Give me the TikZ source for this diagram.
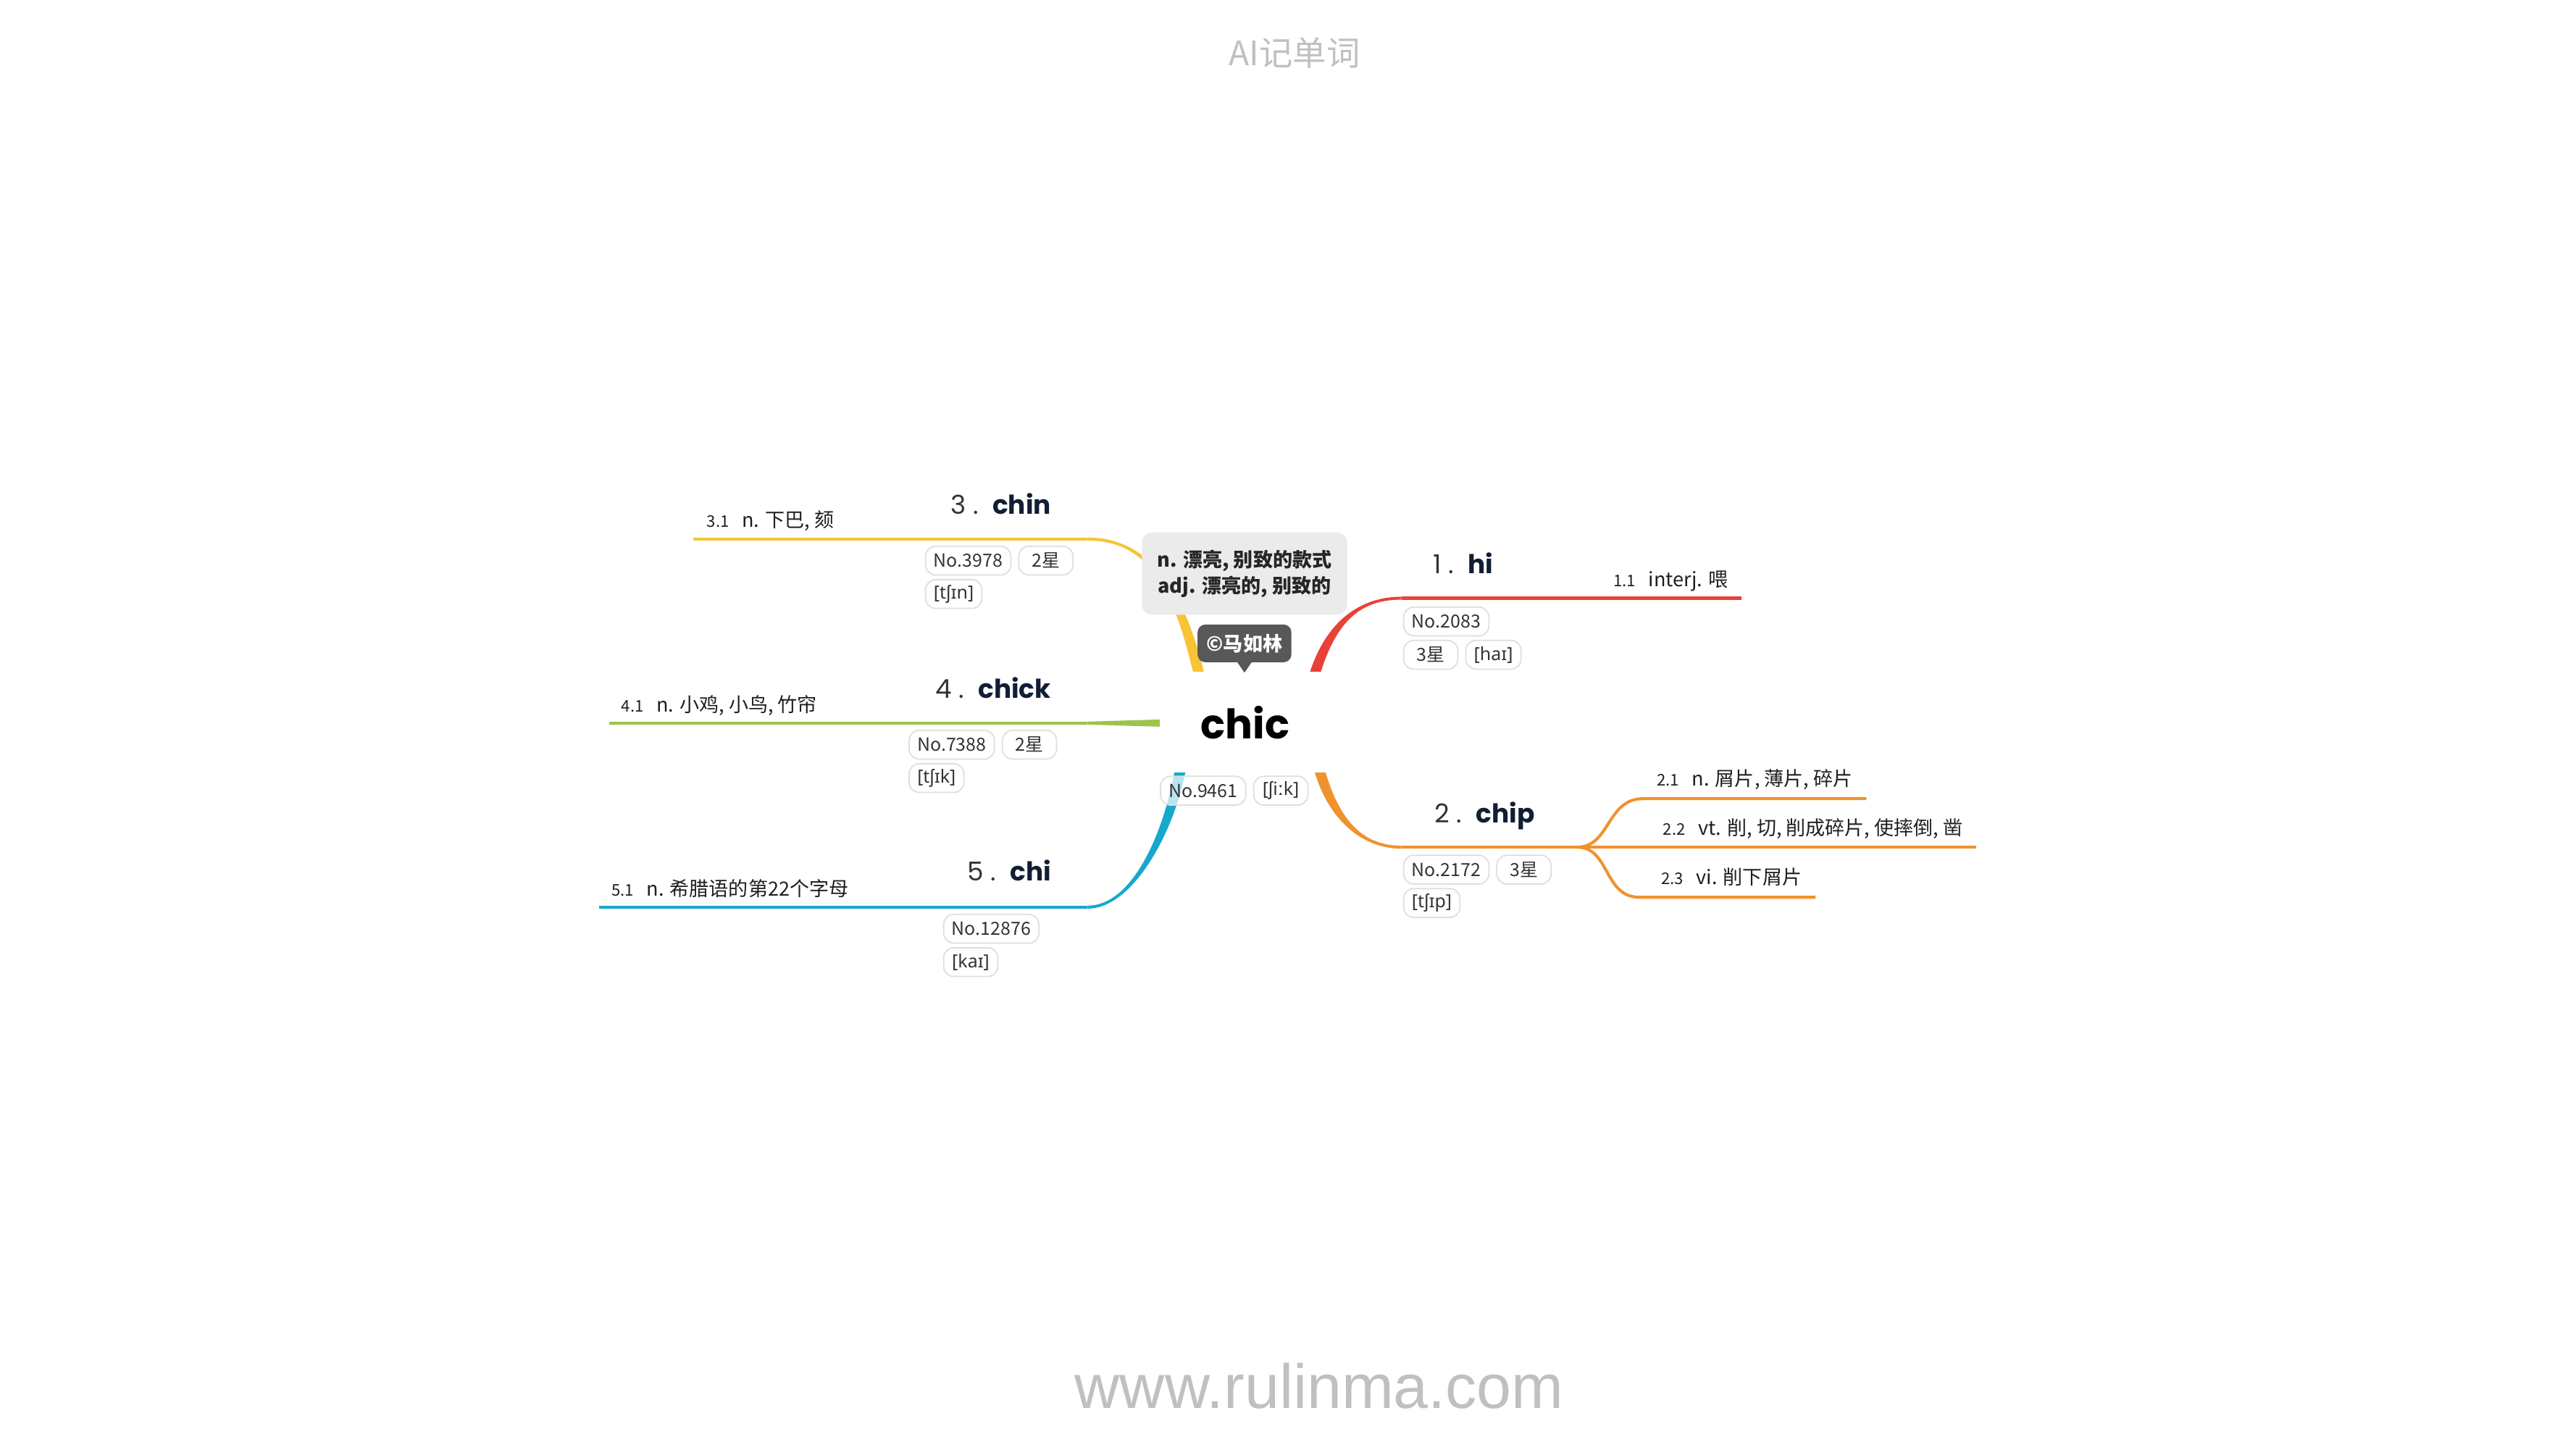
\documentclass[tikz,border=0pt]{standalone}
\usepackage{fontspec}
\setmainfont{Noto Sans CJK SC}
\newfontfamily\wordfont{Poppins}
\newfontfamily\ipafont{Noto Sans}
\newfontfamily\sitefont{Liberation Sans}
\usetikzlibrary{positioning,calc}

\definecolor{limbred}{RGB}{232,66,56}
\definecolor{limborange}{RGB}{240,146,46}
\definecolor{limbyellow}{RGB}{246,196,52}
\definecolor{limbgreen}{RGB}{158,195,76}
\definecolor{limbblue}{RGB}{22,168,205}
\definecolor{wordnavy}{RGB}{18,30,52}
\definecolor{notegray}{RGB}{235,235,235}
\definecolor{badgegray}{RGB}{88,88,88}
\definecolor{tagline}{RGB}{222,222,222}
\definecolor{markgray}{RGB}{192,192,192}

% tapered start of a branch: colour, start, control 1, control 2, joint, offsets at the joint
\newcommand{\branchlimb}[7]{%
  \fill[#1] ($(#2)+(-3.3,0)$) .. controls ($(#3)+(-3.3,0)$) and ($(#4)+(0,#6)$) .. ($(#5)+(0,#6)$)
    -- ($(#5)+(0,#7)$) .. controls ($(#4)+(0,#7)$) and ($(#3)+(3.3,0)$) .. ($(#2)+(3.3,0)$) -- cycle;}

\begin{document}
\begin{tikzpicture}[x=0.02268cm, y=-0.02268cm,
    limbline/.style={line width=1.16pt},
    rootbox/.style={fill=white, minimum width=67.1pt, minimum height=39.4pt, inner sep=0pt,
        font=\wordfont\bfseries\fontsize{16}{18}\selectfont, text=black},
    notebox/.style={fill=notegray, rounded corners=4pt, minimum width=80.6pt, minimum height=32.3pt,
        align=center, inner sep=0pt, font=\bfseries\fontsize{7.7}{10.3}\selectfont, text=black!85},
    badge/.style={fill=badgegray, rounded corners=3pt, minimum width=36.8pt, minimum height=14.8pt,
        inner sep=0pt, text=white, font=\bfseries\fontsize{7.7}{9}\selectfont},
    wordtag/.style={draw=tagline, line width=0.5pt, rounded corners=4pt, fill=white, fill opacity=0.7,
        text opacity=1, text=black!80, font=\fontsize{7.1}{8}\selectfont,
        inner xsep=3.2pt, inner ysep=0pt, minimum height=11.3pt, minimum width=21.3pt, anchor=north west},
    topicword/.style={inner sep=0pt, text=wordnavy, font=\wordfont\bfseries\fontsize{10.2}{12}\selectfont},
    sense/.style={inner sep=0pt, text=black!88, font=\fontsize{7.7}{9}\selectfont}]

    \useasboundingbox[fill=white] (0,0) rectangle (1568,882);

    % Header and footer
    \node[anchor=base, text=markgray, font=\fontsize{13.2}{15}\selectfont] (head) at (788,40) {AI记单词};
    \node[anchor=base, text=markgray, font=\sitefont\fontsize{24.5}{28}\selectfont] (site) at (803,857) {www.rulinma.com};

    % Branch coordinates
    \coordinate (rS) at (800,411);   \coordinate (rC1) at (810,378); \coordinate (rC2) at (828,364);
    \coordinate (rJ) at (853,364);   \coordinate (rE) at (1060,364);
    \coordinate (oS) at (803,468);   \coordinate (oC1) at (812,500); \coordinate (oC2) at (830,515.5);
    \coordinate (oJ) at (853,515.5); \coordinate (oK) at (960,515.5); \coordinate (oE) at (1203,515.5);
    \coordinate (o1J) at (1000,486); \coordinate (o1E) at (1136,486);
    \coordinate (o3J) at (998,546);  \coordinate (o3E) at (1105,546);
    \coordinate (yS) at (730,411);   \coordinate (yC1) at (718,360); \coordinate (yC2) at (700,328);
    \coordinate (yJ) at (662,328);   \coordinate (yE) at (422,328);
    \coordinate (gS) at (706,440);   \coordinate (gJ) at (662,440);  \coordinate (gE) at (371,440);
    \coordinate (bS) at (718.5,468); \coordinate (bC1) at (712,505); \coordinate (bC2) at (690,552);
    \coordinate (bJ) at (662,552);   \coordinate (bE) at (364.5,552);

    % Branches
    \branchlimb{limbred}{rS}{rC1}{rC2}{rJ}{-0.9}{0.9}
    \draw[limbline, limbred] (rJ) -- (rE);
    \branchlimb{limborange}{oS}{oC1}{oC2}{oJ}{0.9}{-0.9}
    \draw[limbline, limborange] (oJ) -- (oE);
    \draw[limbline, limborange] (oK) .. controls (980,515.5) and (978,486) .. (o1J) -- (o1E);
    \draw[limbline, limborange] (oK) .. controls (980,515.5) and (976,546) .. (o3J) -- (o3E);
    \branchlimb{limbyellow}{yS}{yC1}{yC2}{yJ}{0.9}{-0.9}
    \draw[limbline, limbyellow] (yJ) -- (yE);
    \fill[limbgreen] ($(gS)+(0,-2.2)$) -- ($(gJ)+(0,-0.9)$) -- ($(gJ)+(0,0.9)$) -- ($(gS)+(0,2.2)$) -- cycle;
    \draw[limbline, limbgreen] (gJ) -- (gE);
    \branchlimb{limbblue}{bS}{bC1}{bC2}{bJ}{-0.9}{0.9}
    \draw[limbline, limbblue] (bJ) -- (bE);

    % Central word
    \node[rootbox] (chic) at (758,439.5) {chic};
    \node[notebox] (note) at (757.5,349) {n. 漂亮, 别致的款式\\adj. 漂亮的, 别致的};
    \node[badge] (mark) at (757.5,391.5) {©马如林};
    \fill[badgegray] ($(mark.south)+(-4.5,-0.5)$) -- ($(mark.south)+(4.5,-0.5)$) -- ($(mark.south)+(0,6)$) -- cycle;
    \node[wordtag] (chicNo) at (706,472) {No.9461};
    \node[wordtag, right=2.6pt of chicNo] (chicIpa) {\ipafont [ʃiːk]};

    % Branch 1: hi
    \node[topicword, anchor=base west] (hi) at (872,349) {{\mdseries\color{black!80}1 .}\hspace{5.5pt}hi};
    \node[wordtag] (hiNo) at (854,369) {No.2083};
    \node[wordtag, below=1.3pt of hiNo.south west, anchor=north west] (hiStar) {3星};
    \node[wordtag, right=2.6pt of hiStar] (hiIpa) {\ipafont [haɪ]};
    \node[sense, anchor=base east] (hi1) at (1052,357) {{\fontsize{6.3}{7}\selectfont 1.1}\hspace{5pt}interj. 喂};

    % Branch 2: chip
    \node[topicword, anchor=base west] (chip) at (873,500.5) {{\mdseries\color{black!80}2 .}\hspace{5.5pt}chip};
    \node[wordtag] (chipNo) at (854,520) {No.2172};
    \node[wordtag, right=2.6pt of chipNo] (chipStar) {3星};
    \node[wordtag, below=1.3pt of chipNo.south west, anchor=north west] (chipIpa) {\ipafont [tʃɪp]};
    \node[sense, anchor=base east] (chip1) at (1128,478) {{\fontsize{6.3}{7}\selectfont 2.1}\hspace{5pt}n. 屑片, 薄片, 碎片};
    \node[sense, anchor=base east] (chip2) at (1195,508) {{\fontsize{6.3}{7}\selectfont 2.2}\hspace{5pt}vt. 削, 切, 削成碎片, 使摔倒, 凿};
    \node[sense, anchor=base east] (chip3) at (1097,538) {{\fontsize{6.3}{7}\selectfont 2.3}\hspace{5pt}vi. 削下屑片};

    % Branch 3: chin
    \node[topicword, anchor=base east] (chin) at (640,313) {{\mdseries\color{black!80}3 .}\hspace{5.5pt}chin};
    \node[wordtag] (chinNo) at (563,332) {No.3978};
    \node[wordtag, right=2.6pt of chinNo] (chinStar) {2星};
    \node[wordtag, below=1.3pt of chinNo.south west, anchor=north west] (chinIpa) {\ipafont [tʃɪn]};
    \node[sense, anchor=base west] (chin1) at (430,321) {{\fontsize{6.3}{7}\selectfont 3.1}\hspace{5pt}n. 下巴, 颏};

    % Branch 4: chick
    \node[topicword, anchor=base east] (chick) at (640,425) {{\mdseries\color{black!80}4 .}\hspace{5.5pt}chick};
    \node[wordtag] (chickNo) at (553,444) {No.7388};
    \node[wordtag, right=2.6pt of chickNo] (chickStar) {2星};
    \node[wordtag, below=1.3pt of chickNo.south west, anchor=north west] (chickIpa) {\ipafont [tʃɪk]};
    \node[sense, anchor=base west] (chick1) at (378,433) {{\fontsize{6.3}{7}\selectfont 4.1}\hspace{5pt}n. 小鸡, 小鸟, 竹帘};

    % Branch 5: chi
    \node[topicword, anchor=base east] (chi) at (640,536) {{\mdseries\color{black!80}5 .}\hspace{5.5pt}chi};
    \node[wordtag] (chiNo) at (574,556) {No.12876};
    \node[wordtag, below=1.3pt of chiNo.south west, anchor=north west] (chiIpa) {\ipafont [kaɪ]};
    \node[sense, anchor=base west] (chi1) at (372,545) {{\fontsize{6.3}{7}\selectfont 5.1}\hspace{5pt}n. 希腊语的第22个字母};
\end{tikzpicture}
\end{document}
